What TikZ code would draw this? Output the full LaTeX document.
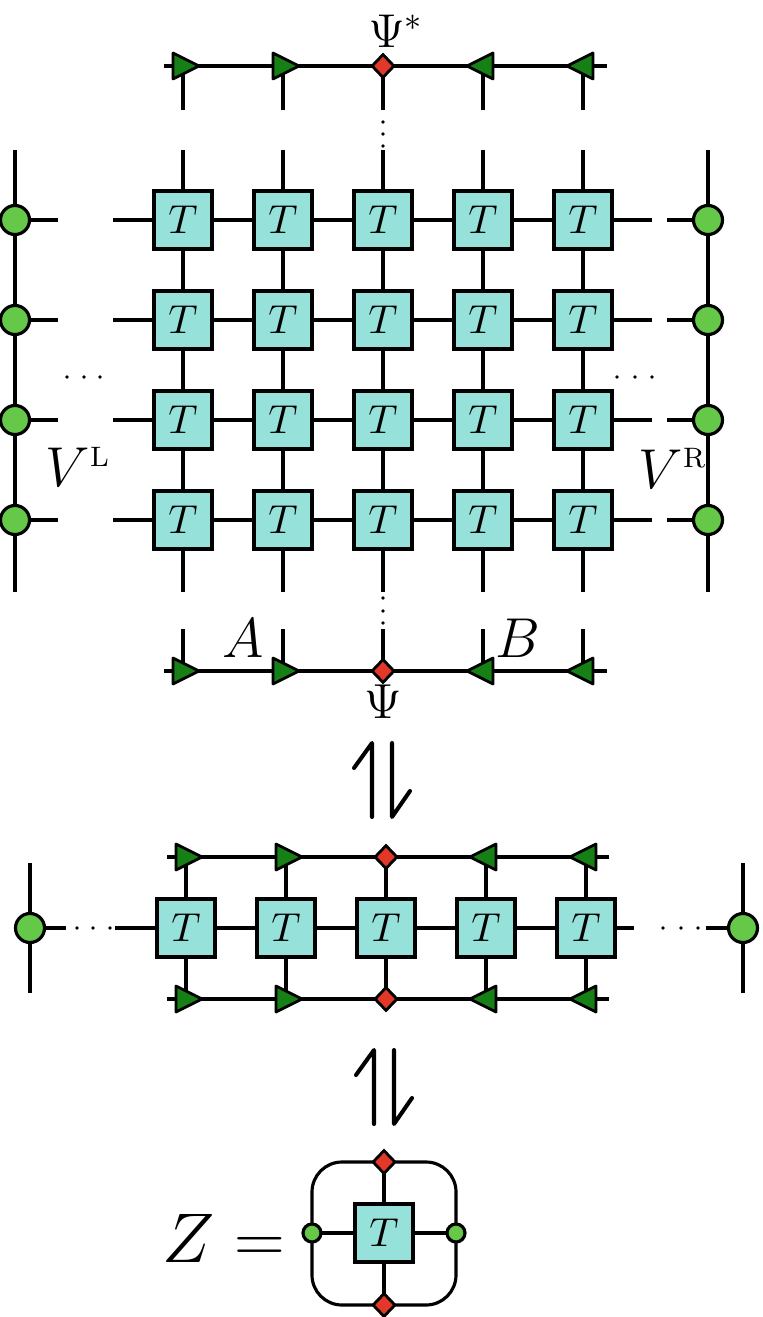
\RequirePackage{fix-cm}
\documentclass[tikz,border=0pt]{standalone}
\usetikzlibrary{shapes.geometric,backgrounds}
\definecolor{tfill}{RGB}{150,226,218}
\definecolor{vfill}{RGB}{102,200,72}
\definecolor{afill}{RGB}{22,128,22}
\definecolor{pfill}{RGB}{226,56,40}
\tikzset{leg/.style={line width=.9pt},
  tens/.style={draw,line width=1pt,fill=tfill,minimum size=.58cm,inner sep=0pt,font=\fontsize{11.5}{13}\selectfont},
  env/.style={circle,draw,line width=.9pt,fill=vfill,minimum size=.29cm,inner sep=0pt},
  envs/.style={env,minimum size=.18cm},
  psi/.style={diamond,draw,line width=.8pt,fill=pfill,minimum width=.23cm,minimum height=.24cm,inner sep=0pt},
  big/.style={inner sep=0pt,font=\fontsize{16}{18}\selectfont}}
\newcommand{\arr}[2]{\begin{scope}[shift={(#1)},xscale=#2]\filldraw[fill=afill,line width=.8pt,line join=round] (-.1,-.13)--(.16,0)--(-.1,.13)--cycle;\end{scope}}
\newcommand{\harp}[1]{\begin{scope}[shift={(#1)}]\draw[line width=1.15pt,line cap=round,line join=round] (-.28,-.12)--(-.1,-.37)--(-.1,.37) (.1,-.37)--(.1,.37)--(.28,.11);\end{scope}}

\begin{document}
\begin{tikzpicture}[y=-1cm]
\useasboundingbox (0,0) rectangle (7.63,13.17);
% ---- full network
\foreach \i in {1,...,5}{
  \foreach \j in {1,...,4}
    \node[tens] (T\i\j) at ({.83+\i},{1.2+\j}) {$T$};
  \coordinate (u\i) at ({.83+\i},.66);\coordinate (gt\i) at ({.83+\i},1.1);
  \coordinate (gb\i) at ({.83+\i},1.5);\coordinate (bb\i) at ({.83+\i},5.92);
  \coordinate (bt\i) at ({.83+\i},6.29);\coordinate (d\i) at ({.83+\i},6.71);
}
\foreach \j in {1,...,4}{
  \node[env] (L\j) at (.15,{1.2+\j}) {};
  \node[env] (R\j) at (7.08,{1.2+\j}) {};
}
\coordinate (Ltop) at (.15,1.5);\coordinate (Lbot) at (.15,5.92);
\coordinate (Rtop) at (7.08,1.5);\coordinate (Rbot) at (7.08,5.92);
\coordinate (glA) at (.58,0);\coordinate (glB) at (1.13,0);
\coordinate (grA) at (6.52,0);\coordinate (grB) at (6.67,0);
\coordinate (ua) at (1.64,.66);\coordinate (ub) at (6.07,.66);
\coordinate (da) at (1.64,6.71);\coordinate (db) at (6.07,6.71);
\node[psi] (PsiS) at (u3) {};
\node[psi] (PsiB) at (d3) {};
\node[inner sep=0pt,anchor=base west,font=\fontsize{13.5}{15}\selectfont] (psiSlab) at (3.68,.48) {$\Psi^{\scriptstyle *}$};
\node[inner sep=0pt,anchor=base] (psiBlab) at (3.83,7.18) {\fontsize{14}{16}\selectfont$\Psi$};
\node[big,anchor=base west] (vl) at (.45,4.87) {$V^{\scriptscriptstyle\mathrm{L}}$};
\node[big,anchor=base west] (vr) at (6.38,4.88) {$V^{\scriptscriptstyle\mathrm{R}}$};
\node[big,anchor=base west] (alab) at (2.22,6.57) {$A$};
\node[big,anchor=base west] (blab) at (4.95,6.57) {$B$};
\begin{scope}[on background layer]
\draw[leg] (Ltop)--(Lbot);\draw[leg] (Rtop)--(Rbot);
\draw[leg] (ua)--(ub);\draw[leg] (da)--(db);
\foreach \j in {1,...,4}{
  \draw[leg] (L\j.center)--(L\j -| glA);
  \draw[leg] (L\j -| glB)--(R\j -| grA);
  \draw[leg] (R\j -| grB)--(R\j.center);
}
\foreach \i in {1,...,5}{
  \draw[leg] (u\i)--(gt\i);\draw[leg] (gb\i)--(bb\i);\draw[leg] (bt\i)--(d\i);
}
\end{scope}
\foreach \i/\s in {1/1,2/1,4/-1,5/-1}{\arr{u\i}{\s}\arr{d\i}{\s}}
\foreach \y in {1.22,1.34,1.46,5.98,6.11,6.23} \fill (3.83,\y) circle (.018);
\foreach \x in {.67,.84,1.0,6.17,6.35,6.52} \fill (\x,3.77) circle (.018);

\harp{3.82,7.80}

% ---- one row
\foreach \i in {1,...,5}{
  \node[tens] (M\i) at ({.86+\i},9.28) {$T$};
  \coordinate (mu\i) at ({.86+\i},8.57);\coordinate (md\i) at ({.86+\i},9.99);
}
\node[env] (ML) at (.30,9.28) {};
\node[env] (MR) at (7.43,9.28) {};
\coordinate (MLt) at (.30,8.63);\coordinate (MLb) at (.30,9.93);
\coordinate (MRt) at (7.43,8.63);\coordinate (MRb) at (7.43,9.93);
\coordinate (mlA) at (.66,9.28);\coordinate (mlB) at (1.15,9.28);
\coordinate (mrA) at (6.34,9.28);\coordinate (mrB) at (7.06,9.28);
\coordinate (mua) at (1.67,8.57);\coordinate (mub) at (6.09,8.57);
\coordinate (mda) at (1.67,9.99);\coordinate (mdb) at (6.09,9.99);
\node[psi] (MPsiS) at (mu3) {};
\node[psi] (MPsiB) at (md3) {};
\begin{scope}[on background layer]
\draw[leg] (MLt)--(MLb);\draw[leg] (MRt)--(MRb);
\draw[leg] (mua)--(mub);\draw[leg] (mda)--(mdb);
\draw[leg] (ML.center)--(mlA);\draw[leg] (mlB)--(mrA);\draw[leg] (mrB)--(MR.center);
\foreach \i in {1,...,5} \draw[leg] (mu\i)--(md\i);
\end{scope}
\foreach \i/\s in {1/1,2/1,4/-1,5/-1}{\arr{mu\i}{\s}\arr{md\i}{\s}}
\foreach \x in {.77,.93,1.10,6.63,6.81,6.98} \fill (\x,9.28) circle (.018);

\harp{3.84,10.87}

% ---- contracted
\node[inner sep=0pt,anchor=base west,font=\fontsize{20}{24}\selectfont] (zlab) at (1.62,12.62) {$Z=$};
\node[tens] (ZT) at (3.84,12.33) {$T$};
\node[envs] (ZL) at (3.12,12.33) {};
\node[envs] (ZR) at (4.56,12.33) {};
\node[psi] (ZU) at (3.84,11.62) {};
\node[psi] (ZD) at (3.84,13.05) {};
\begin{scope}[on background layer]
\draw[leg,rounded corners=.3cm] (ZU.center) -| (ZR.center) |- (ZD.center) -| (ZL.center) |- (ZU.center);
\draw[leg] (ZU.center)--(ZD.center);\draw[leg] (ZL.center)--(ZR.center);
\end{scope}
\end{tikzpicture}
\end{document}
